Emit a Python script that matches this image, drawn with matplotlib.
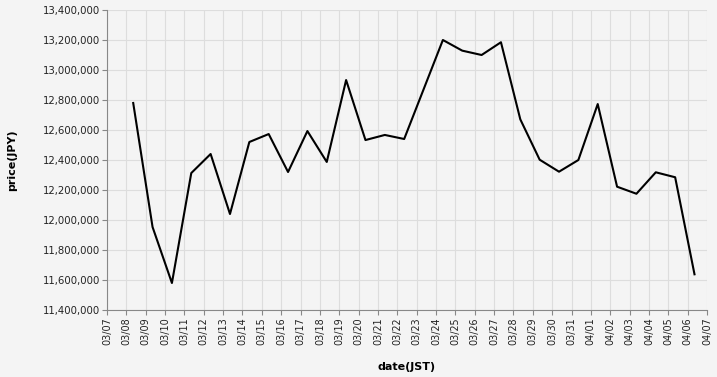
import pandas as pd
import matplotlib
matplotlib.use("Agg")
import matplotlib.pyplot as plt
import matplotlib.dates as mdates
from matplotlib.ticker import FuncFormatter

# daily price (one point per day, ~08:30 JST)
dates = pd.date_range("2024-03-08 08:30", "2024-04-06 08:30", freq="D")
prices = [
    12780000, 11953000, 11580000, 12313000, 12440000, 12040000, 12520000,
    12573000, 12320000, 12593000, 12387000, 12933000, 12533000, 12567000,
    12540000, 12870000, 13200000, 13129000, 13100000, 13185000, 12671000,
    12402000, 12322000, 12400000, 12773000, 12222000, 12175000, 12318000,
    12285000, 11638000,
]
y_ticks = list(range(11400000, 13400001, 200000))

bg = "#f4f4f4"
fig = plt.figure(figsize=(7.17, 3.77), dpi=100, facecolor=bg)
ax = fig.add_axes([107 / 717, 1 - 310 / 377, 600 / 717, 300 / 377], facecolor=bg)

ax.plot(dates, prices, color="black", linewidth=1.5)

ax.set_xlim(pd.Timestamp("2024-03-07"), pd.Timestamp("2024-04-07"))
ax.set_ylim(11400000, 13400000)
ax.set_yticks(y_ticks)
ax.yaxis.set_major_formatter(FuncFormatter(lambda v, p: f"{int(v):,}"))
ax.xaxis.set_major_locator(mdates.DayLocator())
ax.xaxis.set_major_formatter(mdates.DateFormatter("%m/%d"))

ax.grid(True, color="#dddddd", linewidth=0.8)
ax.set_axisbelow(True)
for s in ["top", "right"]:
    ax.spines[s].set_visible(False)
for s in ["left", "bottom"]:
    ax.spines[s].set_color("#888888")
    ax.spines[s].set_linewidth(0.8)
ax.tick_params(colors="#888888", labelcolor="#222222", length=3.6, width=0.8, pad=1.5)
ax.tick_params(axis="y", labelsize=7.3)
ax.tick_params(axis="x", labelsize=6.9, labelrotation=90)

ax.set_xlabel("date(JST)", fontsize=8, fontweight="bold", labelpad=12)
ax.set_ylabel("price(JPY)", fontsize=8, fontweight="bold", labelpad=18)

fig.savefig("out.png", dpi=100, facecolor=bg)
